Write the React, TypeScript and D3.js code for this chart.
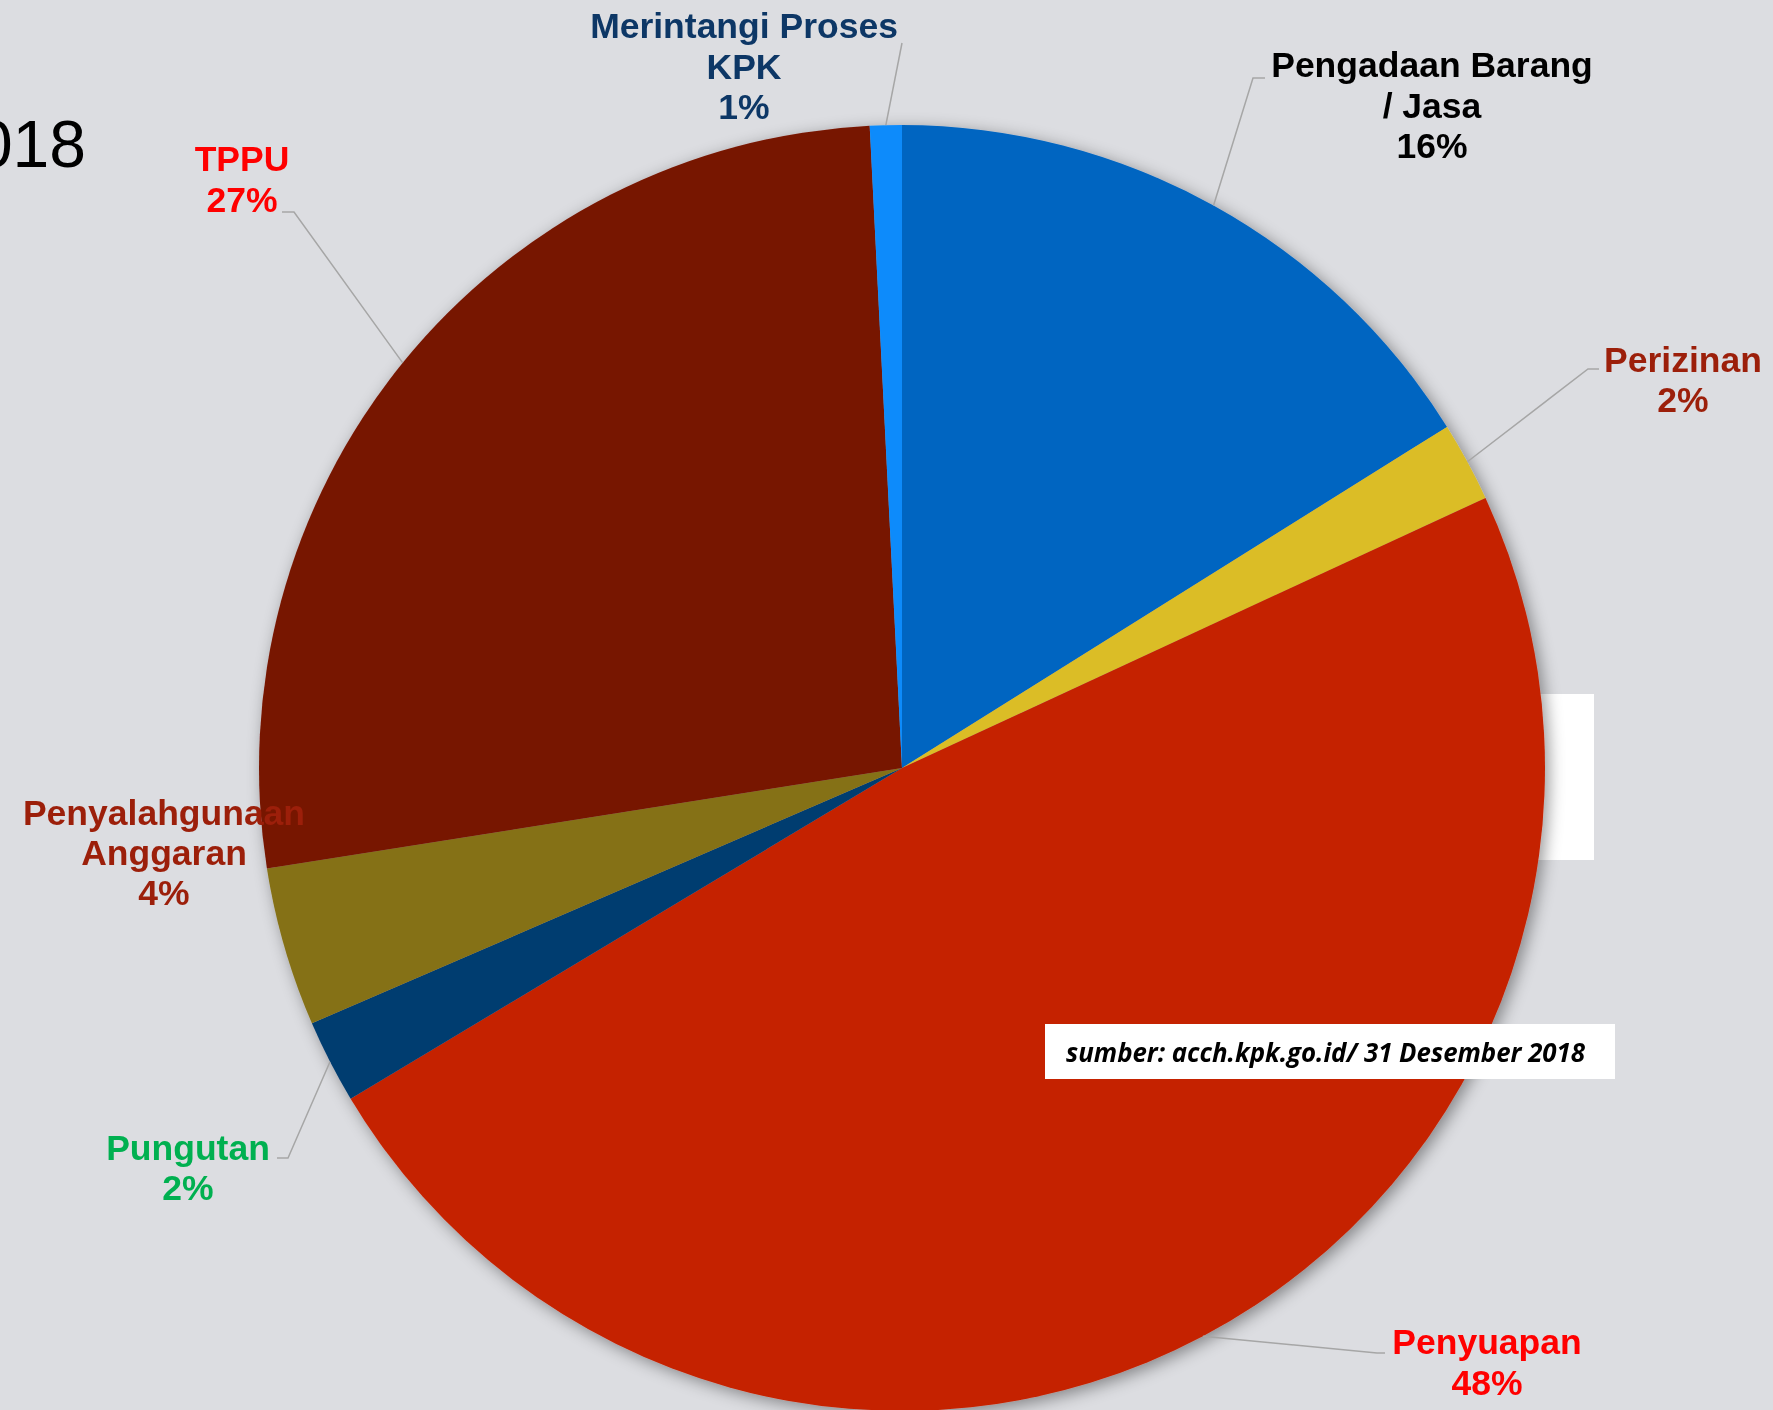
import React from "react";
import * as d3 from "d3";

// ---- data ----
const categories = [
  "Pengadaan Barang / Jasa",
  "Perizinan",
  "Penyuapan",
  "Pungutan",
  "Penyalahgunaan Anggaran",
  "TPPU",
  "Merintangi Proses KPK",
];
const values = [16.1, 2.0, 48.3, 2.1, 4.0, 26.7, 0.8];
const percentLabels = ["16%", "2%", "48%", "2%", "4%", "27%", "1%"];
const labelLines = [
  ["Pengadaan Barang", "/ Jasa"],
  ["Perizinan"],
  ["Penyuapan"],
  ["Pungutan"],
  ["Penyalahgunaan", "Anggaran"],
  ["TPPU"],
  ["Merintangi Proses", "KPK"],
];
const titleText = "2018";
const sourceText = "sumber: acch.kpk.go.id/ 31 Desember 2018";

// ---- styles / layout ----
const sliceColors = ["#0565c1", "#dbbd25", "#c52306", "#043c70", "#857118", "#771503", "#0a8bfb"];
const labelColors = ["#000000", "#9c1f0a", "#ff0000", "#00b050", "#9c1f0a", "#ff0000", "#0d3766"];
// label centre x, first baseline y, line step, leader points (from label toward slice)
const labelLayout = [
  { x: 1432, y: 77, step: 40.5, leader: [[1265, 78], [1253, 78]] },
  { x: 1683, y: 372, step: 40, leader: [[1599, 369], [1588, 369]] },
  { x: 1487, y: 1354, step: 41, leader: [[1385, 1353], [1377, 1353]] },
  { x: 188, y: 1160, step: 40, leader: [[277, 1158], [288, 1158]] },
  { x: 164, y: 825, step: 40, leader: null },
  { x: 242, y: 171, step: 41, leader: [[282, 212], [294, 212]] },
  { x: 744, y: 38, step: 40.5, leader: [[902, 43]] },
];

const W = 1773;
const H = 1410;
const cx = 902;
const cy = 768;
const R = 643;

export default function App() {
  const pie = d3.pie<number>().sort(null).value((d) => d)(values);
  const arc = d3.arc<d3.PieArcDatum<number>>().innerRadius(0).outerRadius(R);
  const edgePoint = (a: d3.PieArcDatum<number>) => {
    const m = (a.startAngle + a.endAngle) / 2;
    return [cx + R * Math.sin(m), cy - R * Math.cos(m)];
  };
  const line = d3.line();
  return (
    <svg
      width={W}
      height={H}
      style={{ position: "absolute", left: 0, top: 0, display: "block" }}
      xmlns="http://www.w3.org/2000/svg"
    >
      <defs>
        <filter id="pieShadow" x="-10%" y="-10%" width="120%" height="120%">
          <feDropShadow dx="4" dy="4" stdDeviation="8" floodColor="#000" floodOpacity="0.4" />
        </filter>
      </defs>
      <rect x={0} y={0} width={W} height={H} fill="#dcdde1" />
      <text
        x={86}
        y={167}
        textAnchor="end"
        fontFamily="'Liberation Sans', Arial, sans-serif"
        fontSize={66}
        fill="#000"
      >
        {titleText}
      </text>
      <rect x={1440} y={694} width={154} height={166} fill="#ffffff" />
      <g filter="url(#pieShadow)">
        {pie.map((p, i) => (
          <path key={categories[i]} d={arc(p) || ""} transform={`translate(${cx},${cy})`} fill={sliceColors[i]} />
        ))}
      </g>
      {pie.map((p, i) => {
        const L = labelLayout[i];
        if (!L.leader) return null;
        const pts = [...L.leader, edgePoint(p)] as [number, number][];
        return <path key={"l" + i} d={line(pts) || ""} fill="none" stroke="#a6a6a6" strokeWidth={1.5} />;
      })}
      {labelLines.map((lines, i) => {
        const L = labelLayout[i];
        const all = [...lines, percentLabels[i]];
        return (
          <text
            key={"t" + i}
            textAnchor="middle"
            fontFamily="'Liberation Sans', Arial, sans-serif"
            fontWeight="bold"
            fontSize={35.5}
            fill={labelColors[i]}
          >
            {all.map((s, j) => (
              <tspan key={j} x={L.x} y={L.y + j * L.step}>
                {s}
              </tspan>
            ))}
          </text>
        );
      })}
      <rect x={1045} y={1024} width={570} height={55} fill="#ffffff" />
      <text
        x={1066}
        y={1062}
        fontFamily="'Open Sans', 'Liberation Sans', sans-serif"
        fontStyle="italic"
        fontWeight="bold"
        fontSize={27}
        textLength={519}
        lengthAdjust="spacingAndGlyphs"
        fill="#000"
      >
        {sourceText}
      </text>
    </svg>
  );
}
